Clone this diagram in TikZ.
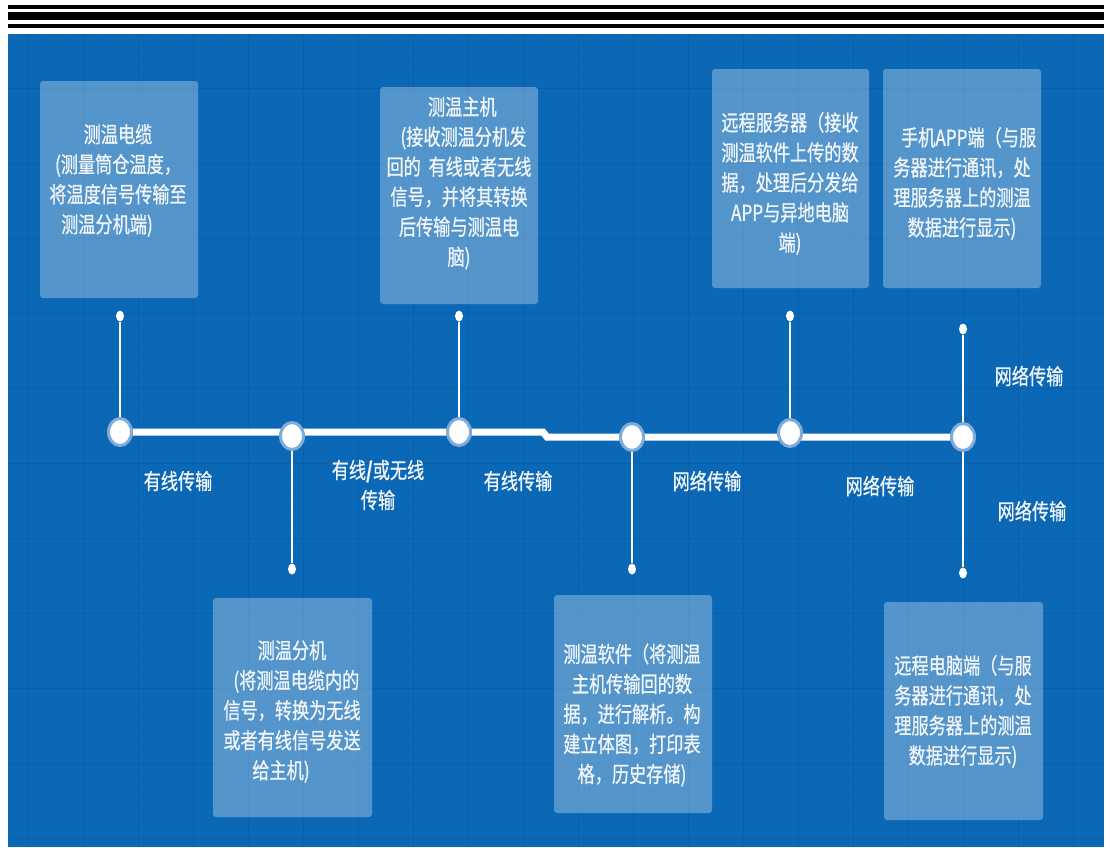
\documentclass[tikz,border=0pt]{standalone}
\usepackage{fontspec}
\newfontfamily\cjk[FakeStretch=0.78,FakeBold=0.7]{Noto Sans CJK SC}
\usetikzlibrary{shapes.geometric}
\definecolor{bgblue}{RGB}{11,104,182}
\definecolor{gridminor}{RGB}{11,101,177}
\definecolor{gridmajor}{RGB}{9,95,168}
\definecolor{halo}{RGB}{128,172,218}
\definecolor{txt}{RGB}{242,246,250}
\pgfdeclarelayer{bottom}
\pgfdeclarelayer{mid}
\pgfsetlayers{bottom,mid,main}
\tikzset{
  box/.style={rectangle, fill=white, fill opacity=0.3, rounded corners=3pt, inner sep=0pt},
  boxtext/.style={text=txt, align=center, font=\cjk\fontsize{22}{30}\selectfont, inner sep=0pt},
  lbl/.style={text=txt, align=center, font=\cjk\fontsize{22}{30}\selectfont, inner sep=0pt},
  milestone/.style={ellipse, fill=white, draw=halo, line width=3pt, minimum width=23pt, minimum height=27pt, inner sep=0pt},
  tip/.style={ellipse, fill=white, minimum width=8pt, minimum height=11pt, inner sep=0pt},
  tline/.style={white, line width=7pt},
  conn/.style={white, line width=1.3pt}
}
\begin{document}
\begin{tikzpicture}[x=1pt,y=-1pt]
\useasboundingbox (0,0) rectangle (1110,847);
\begin{pgfonlayer}{bottom}
\fill[white] (0,0) rectangle (1110,847);
\fill[black] (8,5) rectangle (1104,8.7);
\fill[black] (8,12) rectangle (1104,20);
\fill[black] (8,24) rectangle (1104,28);
\fill[bgblue] (8,34) rectangle (1104,847);
\foreach \x in {17,28,...,1100} \draw[gridminor, line width=0.5pt] (\x,34) -- (\x,847);
\foreach \y in {43,58,...,847} \draw[gridminor, line width=0.5pt] (8,\y) -- (1104,\y);
\foreach \x in {28,83,...,1100} \draw[gridmajor, line width=0.8pt] (\x,34) -- (\x,847);
\foreach \y in {88,163,...,847} \draw[gridmajor, line width=0.8pt] (8,\y) -- (1104,\y);
\end{pgfonlayer}

% boxes
\node[box, minimum width=158pt, minimum height=217pt] (b1) at (119,189.5) {};
\node[box, minimum width=158pt, minimum height=217pt] (b2) at (459,195.5) {};
\node[box, minimum width=157pt, minimum height=219pt] (b3) at (790.5,178.5) {};
\node[box, minimum width=158pt, minimum height=219pt] (b4) at (962,178.5) {};
\node[box, minimum width=159pt, minimum height=219pt] (b5) at (292.5,707.5) {};
\node[box, minimum width=158pt, minimum height=218pt] (b6) at (633,704) {};
\node[box, minimum width=159pt, minimum height=218pt] (b7) at (963.5,711) {};

% box texts
\node[boxtext] (t1) at (118,180.5) {测温电缆\\(测量筒仓温度，\\将温度信号传输至\\测温分机端)\hspace*{1em}};
\node[boxtext] (t2) at (459,183) {\hspace*{0.3em}测温主机\\\hspace*{0.4em}(接收测温分机发\\回的\hspace{0.35em}有线或者无线\\信号，并将其转换\\后传输与测温电\\脑)};
\node[boxtext] (t3) at (790,183.5) {远程服务器（接收\\测温软件上传的数\\据，处理后分发给\\APP与异地电脑\\端)};
\node[boxtext] (t4) at (962,183.5) {\hspace*{0.6em}手机APP端（与服\\务器进行通讯，处\\理服务器上的测温\\数据进行显示)};
\node[boxtext] (t5) at (292,711.5) {测温分机\\\hspace*{0.4em}(将测温电缆内的\\信号，转换为无线\\或者有线信号发送\\给主机)\hspace*{1em}};
\node[boxtext] (t6) at (632,715) {测温软件（将测温\\主机传输回的数\\据，进行解析。构\\建立体图，打印表\\格，历史存储)};
\node[boxtext] (t7) at (963,711.5) {远程电脑端（与服\\务器进行通讯，处\\理服务器上的测温\\\hspace*{0.6em}数据进行显示)\hspace*{0.6em}};

% milestones
\node[milestone] (c1) at (120,432) {};
\node[milestone] (c2) at (292,436) {};
\node[milestone] (c3) at (459,432) {};
\node[milestone] (c4) at (632,437) {};
\node[milestone] (c5) at (790,433) {};
\node[milestone] (c6) at (963,437) {};
\coordinate (s1) at (543,432);
\coordinate (s2) at (547,437);

% tips
\node[tip] (d1) at (120,316) {};
\node[tip] (d2) at (292,569) {};
\node[tip] (d3) at (459,316) {};
\node[tip] (d4) at (632,569) {};
\node[tip] (d5) at (790,316) {};
\node[tip] (d6) at (963,329) {};
\node[tip] (d7) at (963,573) {};

\begin{pgfonlayer}{mid}
\draw[tline] (c1.center) -- (s1) -- (s2) -- (c6.center);
\draw[conn] (c1) -- (d1);
\draw[conn] (c2) -- (d2);
\draw[conn] (c3) -- (d3);
\draw[conn] (c4) -- (d4);
\draw[conn] (c5) -- (d5);
\draw[conn] (c6) -- (d6);
\draw[conn] (c6) -- (d7);
\end{pgfonlayer}

% labels
\node[lbl] (l1) at (178,481) {有线传输};
\node[lbl] (l2) at (378,485) {有线\textbf{/}或无线\\传输};
\node[lbl] (l3) at (518,481) {有线传输};
\node[lbl] (l4) at (707,481) {网络传输};
\node[lbl] (l5) at (880,486) {网络传输};
\node[lbl] (l6) at (1029,376) {网络传输};
\node[lbl] (l7) at (1032,511) {网络传输};
\end{tikzpicture}
\end{document}
